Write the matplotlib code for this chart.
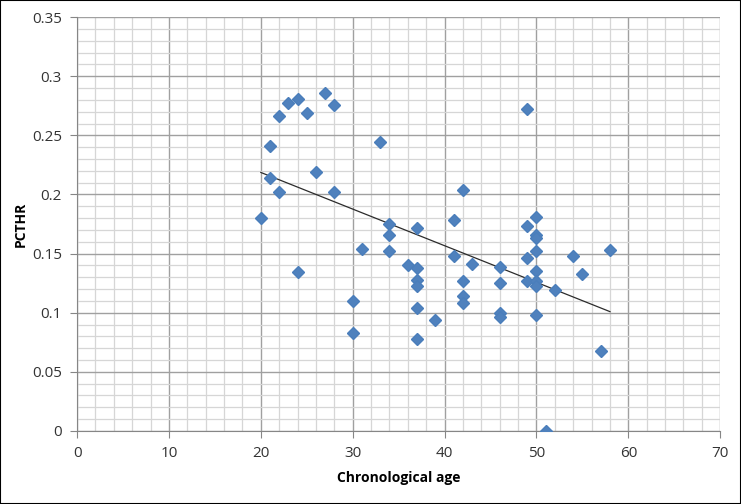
import numpy as np
import matplotlib.pyplot as plt
from matplotlib.ticker import MultipleLocator

# chronological age (years) and PCTHR
age = [20, 21, 21, 22, 22, 23, 24, 24, 25, 26, 27, 28, 28,
       30, 30, 31, 33, 34, 34, 34, 36,
       37, 37, 37, 37, 37, 37, 39, 41, 41,
       42, 42, 42, 42, 43, 46, 46, 46, 46,
       49, 49, 49, 49, 50, 50, 50, 50, 50, 50, 50, 50,
       51, 52, 54, 55, 57, 58]
pcthr = [0.180, 0.241, 0.214, 0.266, 0.202, 0.277, 0.281, 0.134, 0.269, 0.219, 0.286, 0.276, 0.202,
         0.110, 0.083, 0.154, 0.244, 0.175, 0.166, 0.152, 0.140,
         0.172, 0.138, 0.128, 0.123, 0.104, 0.078, 0.094, 0.178, 0.148,
         0.204, 0.127, 0.114, 0.108, 0.141, 0.139, 0.125, 0.100, 0.096,
         0.272, 0.173, 0.146, 0.127, 0.181, 0.166, 0.163, 0.152, 0.135, 0.127, 0.123, 0.098,
         0.0, 0.119, 0.148, 0.133, 0.068, 0.153]

plt.rcParams['font.family'] = ['Open Sans', 'DejaVu Sans']

fig = plt.figure(figsize=(7.41, 5.04), dpi=100)
ax = fig.add_axes([0.104, 0.145, 0.868, 0.821])

x = np.array(age)
y = np.array(pcthr)
ax.plot(x, y, linestyle='none', marker='D', markersize=6.5,
        color='#4f81bd', markeredgecolor='#4a7ebb', zorder=3)

# linear trendline
slope, icpt = np.polyfit(x, y, 1)
xl = np.array([x.min(), x.max()])
ax.plot(xl, slope * xl + icpt, color='#2b2b2b', linewidth=0.9, zorder=2)

ax.set_xlim(0, 70)
ax.set_ylim(0, 0.35)
ax.xaxis.set_major_locator(MultipleLocator(10))
ax.xaxis.set_minor_locator(MultipleLocator(2))
ax.yaxis.set_major_locator(MultipleLocator(0.05))
ax.yaxis.set_minor_locator(MultipleLocator(0.01))
ax.set_yticks(np.arange(0, 0.36, 0.05))
ax.set_yticklabels(['0', '0.05', '0.1', '0.15', '0.2', '0.25', '0.3', '0.35'])

ax.grid(which='major', color='#a0a0a0', linewidth=1.0)
ax.grid(which='minor', color='#d6d6d6', linewidth=0.9)
ax.set_axisbelow(True)

for s in ['top', 'right']:
    ax.spines[s].set_visible(False)
for s in ['left', 'bottom']:
    ax.spines[s].set_color('#868686')
ax.tick_params(which='major', length=5, color='#868686', labelsize=11,
               labelcolor='#333333', pad=6)
ax.tick_params(which='minor', length=0)

ax.set_xlabel('Chronological age', fontsize=10, fontweight='bold', labelpad=7)
ax.set_ylabel('PCTHR', fontsize=10, fontweight='bold', labelpad=3)

fig.patches.append(plt.Rectangle((0, 0), 1, 1, transform=fig.transFigure,
                                 fill=False, edgecolor='black', linewidth=1.5))

fig.savefig('out.png', dpi=100)
